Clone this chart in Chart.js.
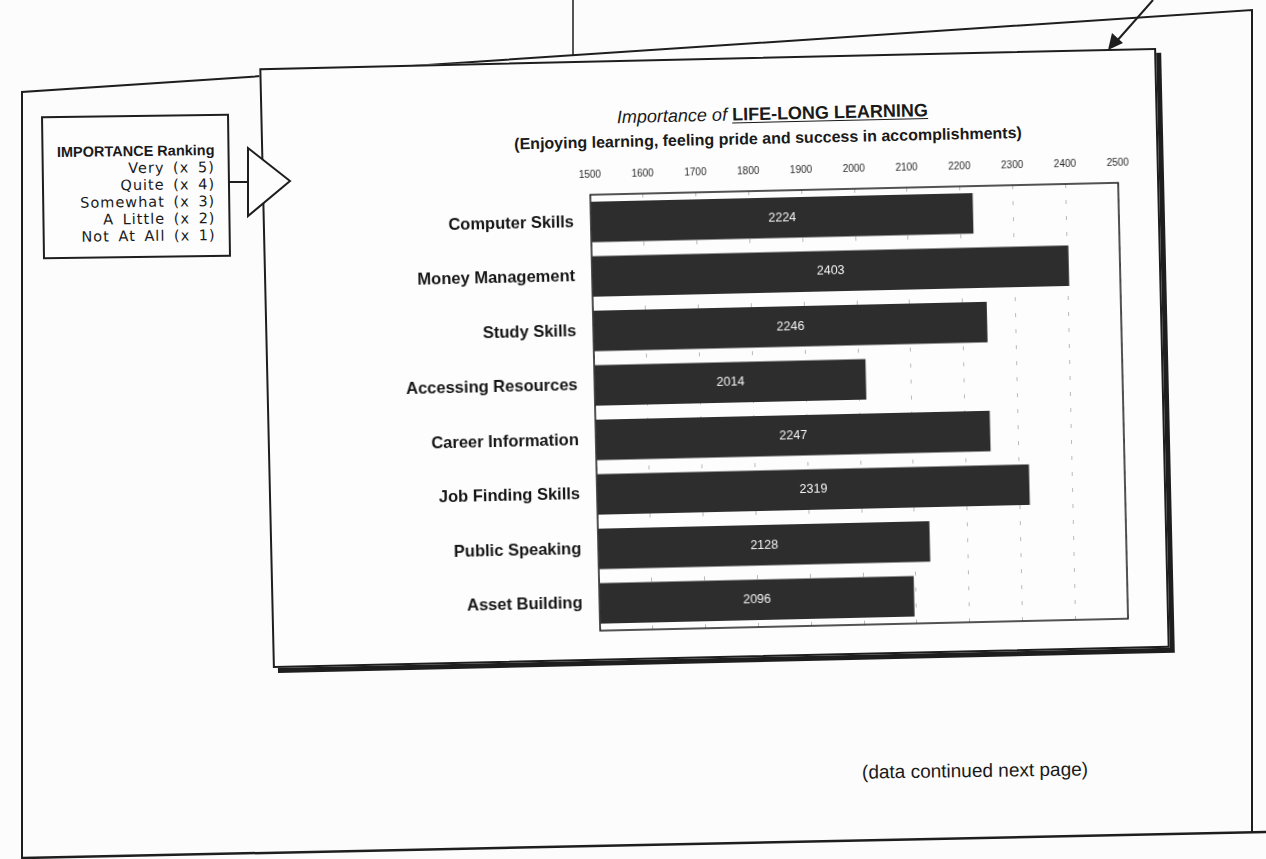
<!DOCTYPE html>
<html>
<head>
<meta charset="utf-8">
<script src="https://cdn.jsdelivr.net/npm/chart.js@4/dist/chart.umd.min.js"></script>
<style>
  html, body { margin: 0; padding: 0; }
  body {
    width: 1266px; height: 859px; overflow: hidden;
    background: #fcfcfc; position: relative;
    font-family: "Liberation Sans", Arial, Helvetica, sans-serif; color: #1a1a1a;
  }
  svg { position: absolute; left: 0; top: 0; }
  #pointer { z-index: 3; }
  #panel {
    position: absolute; left: 266px; top: 58px; width: 897px; height: 600px;
    box-sizing: border-box; border: 2px solid #1e1e1e;
    box-shadow: 5px 5px 0 #1e1e1e; background: #fdfdfd;
    transform: rotate(-1.3deg); z-index: 2;
  }
  #title {
    position: absolute; left: 0; width: 1020px; top: 45px; text-align: center;
    font-size: 18px;
  }
  #title i { font-weight: normal; }
  #title b { text-decoration: underline; text-underline-offset: 2px; }
  #subtitle {
    position: absolute; left: 0; width: 1010px; top: 71px; text-align: center;
    font-size: 16px; font-weight: bold;
  }
  #chart { position: absolute; left: 0; top: 88px; }
  #ranking {
    position: absolute; left: 42px; top: 115px; width: 188px; height: 143px;
    box-sizing: border-box; border: 2px solid #1e1e1e; background: #fdfdfd;
    transform: rotate(-0.8deg); text-align: right; padding: 26px 13px 0 0;
    font-family: "DejaVu Sans", sans-serif; font-size: 14.5px; line-height: 17px;
    letter-spacing: 1px; word-spacing: 3px; z-index: 2;
  }
  #ranking .head {
    font-family: "Liberation Sans", Arial, sans-serif; font-weight: bold;
    font-size: 14.5px; letter-spacing: 0; word-spacing: 0;
  }
  #note {
    position: absolute; left: 862px; top: 760px; font-size: 19px;
    transform: rotate(-0.8deg);
  }
</style>
</head>
<body>
<svg width="1266" height="859">
  <!-- outer page frame -->
  <polyline points="22,859 22,92 1252,10 1252,833" fill="none" stroke="#1e1e1e" stroke-width="2"/>
  <line x1="22" y1="858" x2="1266" y2="832" stroke="#1e1e1e" stroke-width="2.5"/>
  <line x1="573" y1="0" x2="573" y2="56" stroke="#1e1e1e" stroke-width="1.5"/>
  <!-- arrow into the chart panel -->
  <line x1="1153" y1="0" x2="1116" y2="42" stroke="#1e1e1e" stroke-width="2"/>
  <polygon points="1108,50 1112,33 1123,43" fill="#1e1e1e"/>
</svg>

<div id="ranking"></div>

<div id="panel">
  <div id="title"><i>Importance of</i> <b>LIFE-LONG LEARNING</b></div>
  <div id="subtitle">(Enjoying learning, feeling pride and success in accomplishments)</div>
  <canvas id="chart" width="890" height="500"></canvas>
</div>

<!-- connector from the ranking box, drawn over the panel edge -->
<svg id="pointer" width="300" height="260">
  <line x1="229" y1="182" x2="248" y2="182" stroke="#1e1e1e" stroke-width="2"/>
  <polygon points="248,148 248,216 290,181" fill="#fdfdfd" stroke="#1e1e1e" stroke-width="2"/>
</svg>

<div id="note">(data continued next page)</div>

<script>
const categories = [
  "Computer Skills", "Money Management", "Study Skills", "Accessing Resources",
  "Career Information", "Job Finding Skills", "Public Speaking", "Asset Building"
];
const scores = [2224, 2403, 2246, 2014, 2247, 2319, 2128, 2096];
const tickValues = [1500, 1600, 1700, 1800, 1900, 2000, 2100, 2200, 2300, 2400, 2500];

const rankingTitle = "IMPORTANCE Ranking";
const rankingLines = ["Very (x 5)", "Quite (x 4)", "Somewhat (x 3)", "A Little (x 2)", "Not At All (x 1)"];

// ranking key box
const box = document.getElementById("ranking");
box.innerHTML = '<div class="head">' + rankingTitle + '</div>' +
  rankingLines.map(t => "<div>" + t + "</div>").join("");

// white numbers in the middle of each bar
const barValues = {
  id: "barValues",
  afterDatasetsDraw(chart) {
    const ctx = chart.ctx;
    const meta = chart.getDatasetMeta(0);
    ctx.save();
    ctx.fillStyle = "#f4f4f4";
    ctx.font = "12.5px 'Liberation Sans', Arial, sans-serif";
    ctx.textAlign = "center";
    ctx.textBaseline = "middle";
    meta.data.forEach((bar, i) => {
      ctx.fillText(String(scores[i]), (bar.base + bar.x) / 2, bar.y);
    });
    ctx.restore();
  }
};

// plot box outline
const plotFrame = {
  id: "plotFrame",
  afterDraw(chart) {
    const a = chart.chartArea;
    const ctx = chart.ctx;
    ctx.save();
    ctx.strokeStyle = "#1a1a1a";
    ctx.lineWidth = 1.5;
    ctx.strokeRect(a.left, a.top, a.right - a.left, a.bottom - a.top);
    ctx.restore();
  }
};

new Chart(document.getElementById("chart"), {
  type: "bar",
  data: {
    labels: categories,
    datasets: [{
      data: scores,
      base: 1500,
      backgroundColor: "#2d2d2d",
      barPercentage: 0.74,
      categoryPercentage: 1
    }]
  },
  options: {
    indexAxis: "y",
    responsive: false,
    animation: false,
    devicePixelRatio: 1,
    layout: { padding: { left: 0, top: 0, right: 36, bottom: 20 } },
    plugins: { legend: { display: false }, tooltip: { enabled: false } },
    scales: {
      x: {
        position: "top",
        min: 1500,
        max: 2500,
        afterBuildTicks: axis => { axis.ticks = tickValues.map(v => ({ value: v })); },
        afterFit: axis => { axis.height = 44; },
        ticks: {
          color: "#2a2a2a",
          padding: 14,
          callback: v => String(v),
          font: { family: "'Liberation Sans Narrow', 'Liberation Sans', sans-serif", size: 10 }
        },
        grid: { color: "rgba(60,60,60,0.35)", lineWidth: 1, drawTicks: false },
        border: { display: false, dash: [4, 12] }
      },
      y: {
        afterFit: axis => { axis.width = 326; },
        ticks: {
          color: "#151515",
          padding: 9,
          font: { family: "'Liberation Sans', Arial, sans-serif", size: 16.5, weight: "bold" }
        },
        grid: { display: false },
        border: { display: false }
      }
    }
  },
  plugins: [barValues, plotFrame]
});
</script>
</body>
</html>
